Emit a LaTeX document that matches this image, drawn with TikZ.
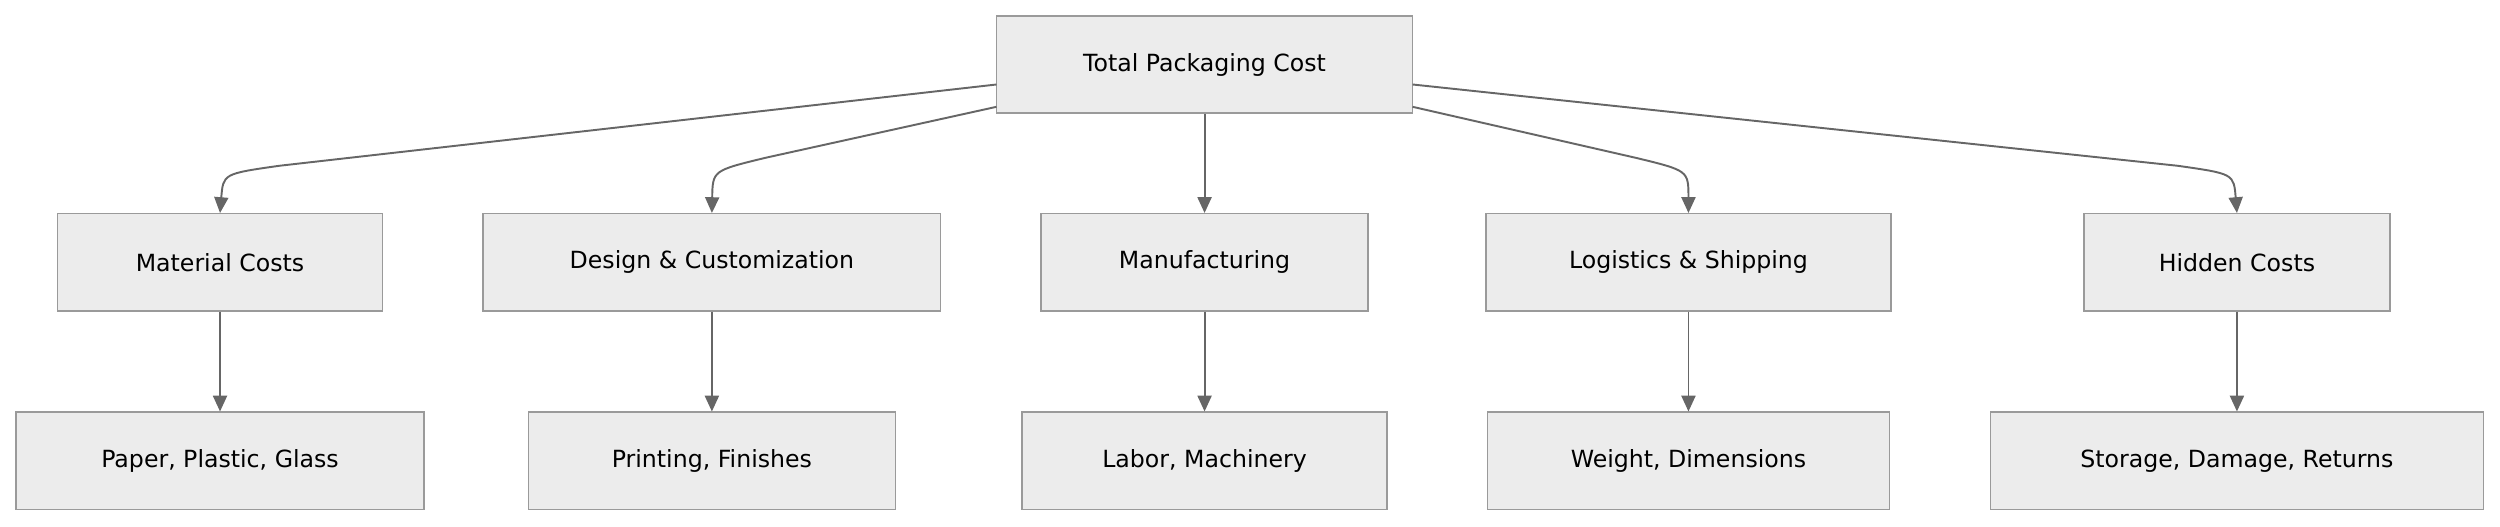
\documentclass[tikz,border=0pt]{standalone}
\usepackage{fontspec}
\setmainfont{DejaVu Sans}
\usetikzlibrary{arrows.meta}
\definecolor{boxfill}{HTML}{ECECEC}
\definecolor{boxline}{HTML}{9A9A9A}
\definecolor{linkcol}{HTML}{666666}
\begin{document}
\begin{tikzpicture}[x=0.032cm,y=-0.032cm,
	box/.style={rectangle,draw=boxline,fill=boxfill,line width=0.8pt,minimum height=1.95cm,font=\fontsize{13.5}{16}\selectfont,inner sep=0pt},
	link/.style={draw=linkcol,line width=1.1pt,-{Triangle[length=9pt,width=8pt]}}]
	\useasboundingbox (0,0) rectangle (1568,330);
	% top
	\node [box,minimum width=261*0.032cm] (top) at (755.5,40.5) {Total Packaging Cost};
	% middle row
	\node [box,minimum width=204*0.032cm] (mat) at (138,164.5) {Material Costs};
	\node [box,minimum width=287*0.032cm] (des) at (446.5,164.5) {Design \& Customization};
	\node [box,minimum width=205*0.032cm] (man) at (755.5,164.5) {Manufacturing};
	\node [box,minimum width=254*0.032cm] (log) at (1059,164.5) {Logistics \& Shipping};
	\node [box,minimum width=192*0.032cm] (hid) at (1403,164.5) {Hidden Costs};
	% bottom row
	\node [box,minimum width=256*0.032cm] (ppg) at (138,289) {Paper, Plastic, Glass};
	\node [box,minimum width=230*0.032cm] (pf) at (446.5,289) {Printing, Finishes};
	\node [box,minimum width=229*0.032cm] (lm) at (755.5,289) {Labor, Machinery};
	\node [box,minimum width=252*0.032cm] (wd) at (1059,289) {Weight, Dimensions};
	\node [box,minimum width=309*0.032cm] (sdr) at (1403,289) {Storage, Damage, Returns};
	% links from top
	\coordinate (t1) at (625,53);
	\coordinate (t2) at (625,67);
	\coordinate (t4) at (886,67);
	\coordinate (t5) at (886,53);
	\draw [link] (t1) -- (175,104) .. controls (140,109) .. (mat.north);
	\draw [link] (t2) -- (480,99) .. controls (447,107) .. (des.north);
	\draw [link] (top) -- (man);
	\draw [link] (t4) -- (1026,99) .. controls (1059,107) .. (log.north);
	\draw [link] (t5) -- (1366,104) .. controls (1401,109) .. (hid.north);
	% links down
	\foreach \a/\b in {mat/ppg,des/pf,man/lm,log/wd,hid/sdr}
		\draw [link] (\a) -- (\b);
\end{tikzpicture}
\end{document}
